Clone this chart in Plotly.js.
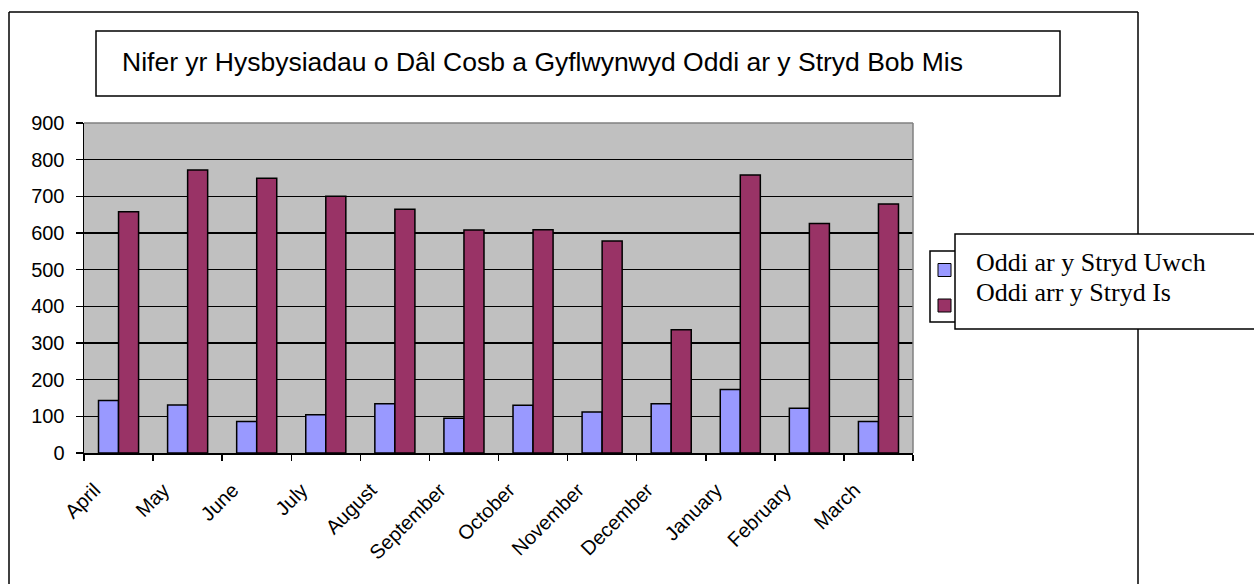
<!DOCTYPE html>
<html>
<head>
<meta charset="utf-8">
<script src="https://cdn.plot.ly/plotly-3.0.1.min.js"></script>
<style>html,body{margin:0;padding:0;background:#fff;}#chart{width:1254px;height:584px;}</style>
</head>
<body>
<div id="chart"></div>
<script>
const months = ["April","May","June","July","August","September","October","November","December","January","February","March"];
const uwch = [143, 131, 86, 104, 134, 95, 130, 112, 134, 173, 122, 86];
const is_ = [658, 772, 749, 700, 665, 608, 609, 578, 336, 758, 626, 679];
const seriesNames = ["Oddi ar y Stryd Uwch", "Oddi arr y Stryd Is"];
const chartTitle = "Nifer yr Hysbysiadau o Dâl Cosb a Gyflwynwyd Oddi ar y Stryd Bob Mis";

// pixel -> paper helpers (plot area: x 84..913, y 123..453)
const L = 84, R = 913, T = 123, B = 453;
const px = v => (v - L) / (R - L);
const py = v => (B - v) / (B - T);

const traces = [
  {type:"bar", name:seriesNames[0], x:months, y:uwch,
   marker:{color:"#9999FF", line:{color:"#000", width:1.5}}, showlegend:false},
  {type:"bar", name:seriesNames[1], x:months, y:is_,
   marker:{color:"#993366", line:{color:"#000", width:1.5}}, showlegend:false}
];

const blk = {color:"#000", width:1.5};
const shapes = [
  // outer chart border
  {type:"line", xref:"paper", yref:"paper", x0:px(9), x1:px(9), y0:py(12), y1:py(600), line:blk},
  {type:"line", xref:"paper", yref:"paper", x0:px(9), x1:px(1138), y0:py(12), y1:py(12), line:blk},
  {type:"line", xref:"paper", yref:"paper", x0:px(1138), x1:px(1138), y0:py(12), y1:py(600), line:blk},
  // plot area frame top/right (gray)
  {type:"line", xref:"paper", yref:"paper", x0:0, x1:1, y0:1, y1:1, line:{color:"#808080", width:1.5}},
  {type:"line", xref:"paper", yref:"paper", x0:1, x1:1, y0:0, y1:1, line:{color:"#808080", width:1.5}},
  // title box
  {type:"rect", xref:"paper", yref:"paper", x0:px(96), x1:px(1060), y0:py(31), y1:py(96), line:blk, fillcolor:"#fff"},
  // legend small box
  {type:"rect", xref:"paper", yref:"paper", x0:px(930), x1:px(956), y0:py(251), y1:py(322), line:blk, fillcolor:"#fff"},
  // legend big box
  {type:"rect", xref:"paper", yref:"paper", x0:px(955), x1:px(1270), y0:py(234), y1:py(329), line:blk, fillcolor:"#fff"},
  // swatches
  {type:"rect", xref:"paper", yref:"paper", x0:px(938), x1:px(951), y0:py(263.5), y1:py(276.5), line:{color:"#000", width:1}, fillcolor:"#9999FF"},
  {type:"rect", xref:"paper", yref:"paper", x0:px(938), x1:px(951), y0:py(299), y1:py(312), line:{color:"#000", width:1}, fillcolor:"#993366"}
];

const annotations = [
  {xref:"paper", yref:"paper", x:px(120), y:py(62), xanchor:"left", yanchor:"middle", showarrow:false,
   text:chartTitle, font:{family:"Liberation Sans, Arial", size:26.5, color:"#000"}},
  {xref:"paper", yref:"paper", x:px(974), y:py(262), xanchor:"left", yanchor:"middle", showarrow:false,
   text:seriesNames[0], font:{family:"Liberation Serif, Times New Roman", size:26, color:"#000"}},
  {xref:"paper", yref:"paper", x:px(974), y:py(292), xanchor:"left", yanchor:"middle", showarrow:false,
   text:seriesNames[1], font:{family:"Liberation Serif, Times New Roman", size:26, color:"#000"}}
];

const layout = {
  width:1254, height:584,
  margin:{l:L, r:1254-R, t:T, b:584-B, pad:0},
  paper_bgcolor:"#fff", plot_bgcolor:"#C0C0C0",
  barmode:"group", bargap:0.42, bargroupgap:0,
  showlegend:false,
  xaxis:{type:"category", showline:true, linecolor:"#000", linewidth:1.5,
         ticks:"outside", tickson:"boundaries", ticklen:6, tickcolor:"#000", tickwidth:1.5,
         tickangle:-45, showgrid:false, ticklabelshift:-24, ticklabelstandoff:16,
         tickfont:{family:"Liberation Sans, Arial", size:20, color:"#000"}},
  yaxis:{range:[0,900], dtick:100, showline:true, linecolor:"#000", linewidth:1.5,
         ticks:"outside", ticklen:7, tickcolor:"#000", tickwidth:1.5, ticklabelstandoff:7,
         showgrid:true, gridcolor:"#000", gridwidth:1.5, zeroline:false,
         tickfont:{family:"Liberation Sans, Arial", size:20, color:"#000"}},
  shapes:shapes, annotations:annotations
};

Plotly.newPlot("chart", traces, layout, {displayModeBar:false, staticPlot:true});
</script>
</body>
</html>
